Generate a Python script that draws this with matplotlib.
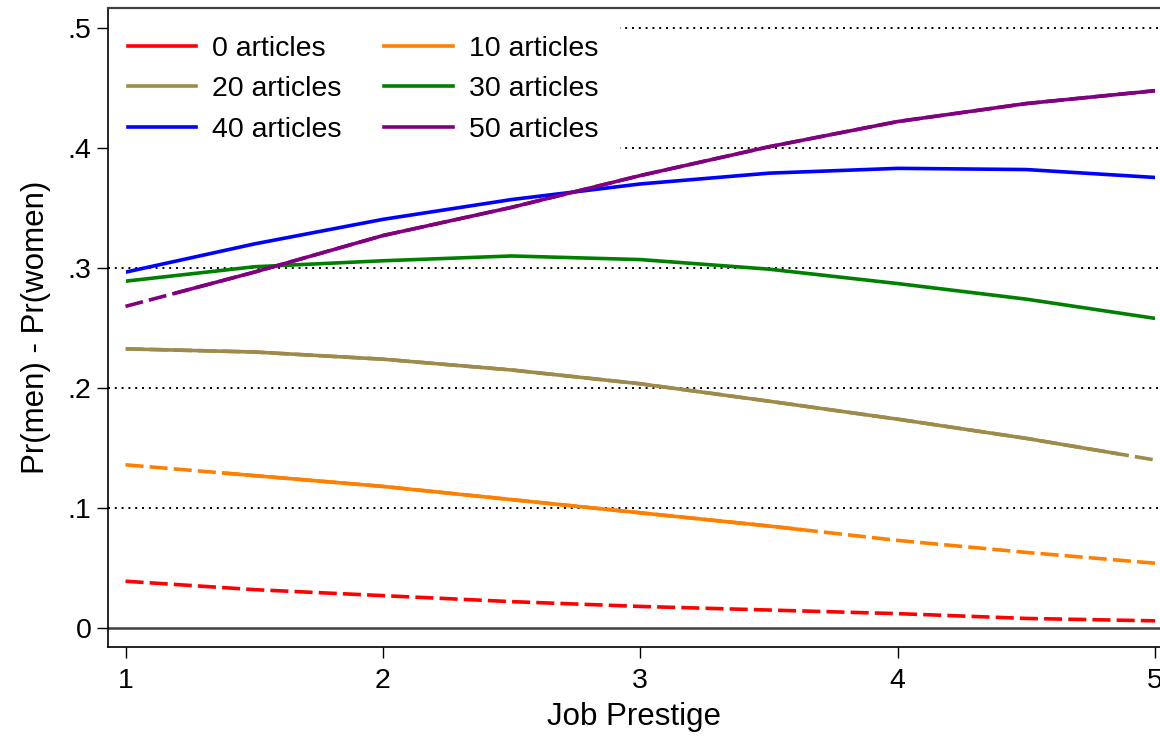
import matplotlib
matplotlib.use("Agg")
import matplotlib.pyplot as plt
from matplotlib.patches import Rectangle

plt.rcParams['font.family'] = ['Liberation Sans', 'DejaVu Sans']

# ---------- DATOS ----------
prestigio = [1, 1.5, 2, 2.5, 3, 3.5, 4, 4.5, 5]
art0 = [0.039, 0.032, 0.027, 0.022, 0.018, 0.015, 0.012, 0.008, 0.006]
art10 = [0.136, 0.127, 0.118, 0.107, 0.096, 0.085, 0.073, 0.063, 0.054]
art20 = [0.2326, 0.230, 0.224, 0.215, 0.2035, 0.189, 0.174, 0.158, 0.140]
art30 = [0.289, 0.301, 0.306, 0.310, 0.307, 0.299, 0.287, 0.274, 0.258]
art40 = [0.2965, 0.320, 0.3405, 0.357, 0.370, 0.379, 0.383, 0.382, 0.3754]
art50 = [0.268, 0.2965, 0.327, 0.3505, 0.377, 0.401, 0.422, 0.437, 0.4477]

etiquetas = ['0 articles', '10 articles', '20 articles',
             '30 articles', '40 articles', '50 articles']
series = [art0, art10, art20, art30, art40, art50]
colores = ['#FF0000', '#FF8000', '#9E8A4A', '#008000', '#0000FF', '#800080']
# tramo significativo (linea continua); None = todo discontinuo
tramo_solido = [None, (1.38, 3.63), (1.0, 4.86), (1.0, 5.0), (1.0, 5.0), (1.19, 5.0)]

yticks = [0, 0.1, 0.2, 0.3, 0.4, 0.5]
ytick_labels = ['0', '.1', '.2', '.3', '.4', '.5']
xticks = [1, 2, 3, 4, 5]

# ---------- GRAFICAR ----------
fig = plt.figure(figsize=(11.6, 7.38), dpi=100)
ax = fig.add_axes([108/1160, 91/738, 1 - 108/1160, 639/738])
ax.set_xlim(0.932, 5.019)
ax.set_ylim(-0.0158, 0.5166)

# lineas de referencia punteadas
for y in yticks[1:]:
    ax.axhline(y, color='black', linewidth=1.4, linestyle=(0, (1, 2.5)), zorder=1)
ax.axhline(0, color='#404040', linewidth=1.8, zorder=2)

# fondo blanco de la leyenda
ax.add_patch(Rectangle((0, 0.778), 0.487, 0.23, transform=ax.transAxes,
                       facecolor='white', edgecolor='none', zorder=1.5))

lw = 2.6
handles = []
for ys, col, tramo, lab in zip(series, colores, tramo_solido, etiquetas):
    if tramo != (1.0, 5.0):
        ax.plot(prestigio, ys, color=col, linewidth=lw, dashes=(5.0, 1.7),
                dash_capstyle='butt', zorder=3)
    if tramo is not None:
        ln, = ax.plot(prestigio, ys, color=col, linewidth=lw, zorder=4,
                      solid_capstyle='butt', solid_joinstyle='round')
        clip = Rectangle((tramo[0], -1), tramo[1] - tramo[0], 2,
                         transform=ax.transData)
        ln.set_clip_path(clip)
    h, = ax.plot([], [], color=col, linewidth=lw, label=lab)
    handles.append(h)

# orden por filas: 0/10, 20/30, 40/50
orden = [0, 2, 4, 1, 3, 5]
ax.legend(handles=[handles[i] for i in orden], ncol=2, loc='upper left',
          frameon=False, fontsize=20.5, handlelength=2.4, handletextpad=0.56,
          columnspacing=1.5, labelspacing=0.5, borderpad=0, borderaxespad=0,
          bbox_to_anchor=(0.019, 0.956))

ax.set_yticks(yticks)
ax.set_yticklabels(ytick_labels)
ax.set_xticks(xticks)
ax.tick_params(axis='both', direction='out', length=8, width=1, labelsize=20.5,
               colors='black')
ax.tick_params(axis='x', pad=7)
ax.tick_params(axis='y', pad=4)
ax.set_xlabel('Job Prestige', fontsize=22.5, labelpad=6)
ax.set_ylabel('Pr(men) - Pr(women)', fontsize=22.5, labelpad=12)

ax.spines['right'].set_visible(False)
ax.spines['top'].set_color('#404040')
ax.spines['top'].set_linewidth(1.6)
for s in ['left', 'bottom']:
    ax.spines[s].set_linewidth(1.2)
    ax.spines[s].set_color('black')

fig.savefig('out.png', dpi=100)
